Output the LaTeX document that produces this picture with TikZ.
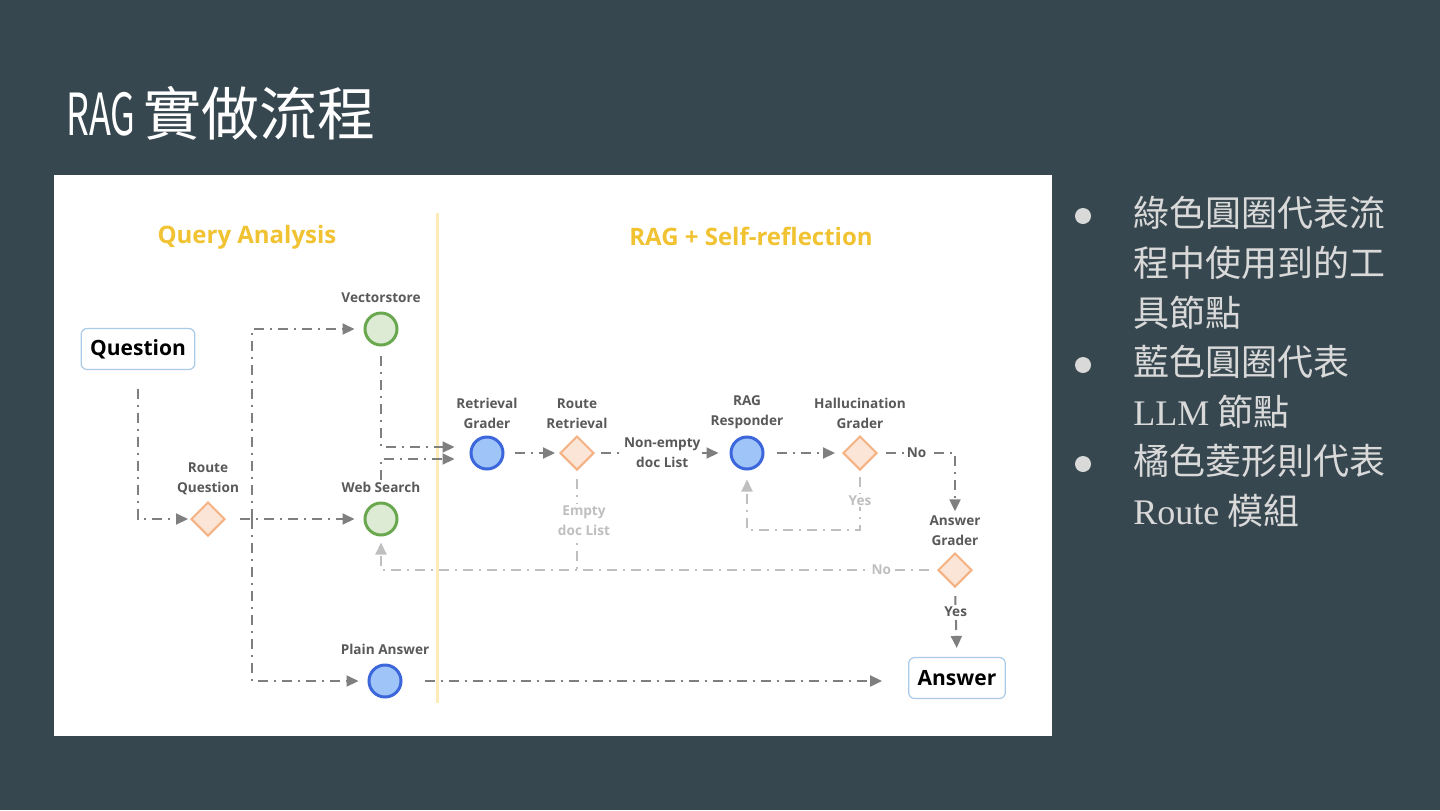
\documentclass[tikz,border=0pt]{standalone}
\usepackage{fontspec}
\setmainfont{Open Sans}
\newfontfamily\cjk{Noto Sans CJK TC}
\newfontfamily\condfont[FakeStretch=0.62]{Noto Sans CJK TC}
\newfontfamily\serifb{Liberation Serif}
\usetikzlibrary{shapes, arrows.meta, positioning}

\definecolor{slide}{HTML}{37474F}
\definecolor{headgold}{HTML}{F1C232}
\definecolor{toolgreen}{HTML}{6AA84F}
\definecolor{toolfill}{HTML}{DDEBD5}
\definecolor{llmblue}{HTML}{3C66DB}
\definecolor{llmfill}{HTML}{9FC5F8}
\definecolor{routeorange}{HTML}{F4B183}
\definecolor{routefill}{HTML}{FBE5D6}
\definecolor{boxblue}{HTML}{A9CBE8}
\definecolor{flowgray}{HTML}{7F7F7F}
\definecolor{faintgray}{HTML}{BFBFBF}
\definecolor{lblgray}{HTML}{595959}
\definecolor{sepyellow}{HTML}{FDEBB8}
\definecolor{bullettxt}{HTML}{D9D9D9}

\begin{document}
\begin{tikzpicture}[x=0.5pt, y=-0.5pt, node distance=3pt]
    \tikzstyle{tool} = [circle, draw=toolgreen, fill=toolfill, line width=1.5pt, minimum size=16pt, inner sep=0pt]
    \tikzstyle{llm} = [circle, draw=llmblue, fill=llmfill, line width=1.5pt, minimum size=16pt, inner sep=0pt]
    \tikzstyle{route} = [diamond, draw=routeorange, fill=routefill, line width=1pt, minimum size=17pt, inner sep=0pt]
    \tikzstyle{endbox} = [rectangle, rounded corners=3pt, draw=boxblue, fill=white, line width=0.6pt, inner xsep=4.5pt, minimum height=20.5pt, font=\fontsize{10.5}{12}\selectfont\bfseries]
    \tikzstyle{header} = [font=\fontsize{12}{14}\selectfont\bfseries, text=headgold]
    \tikzstyle{lbl} = [font=\fontsize{6.8}{10}\selectfont\bfseries, text=lblgray, align=center, inner sep=1pt]
    \tikzstyle{faintlbl} = [lbl, text=faintgray]
    \tikzstyle{arrow} = [line width=1pt, draw=flowgray, dash pattern=on 5pt off 3pt on 1pt off 3pt, -{Triangle[length=6pt, width=5.5pt]}]
    \tikzstyle{faintarrow} = [arrow, draw=faintgray]
    \tikzstyle{faintline} = [line width=1pt, draw=faintgray, dash pattern=on 5pt off 3pt on 1pt off 3pt]
    \tikzstyle{bulletdot} = [circle, fill=bullettxt, minimum size=8pt, inner sep=0pt]
    \tikzstyle{bullettext} = [anchor=north west, align=left, inner sep=0pt, text=bullettxt, font=\cjk\fontsize{18}{25}\selectfont]

    % Slide
    \fill[slide] (0,0) rectangle (1440,810);
    \node (title) [anchor=base west, inner sep=0pt, text=white, font=\fontsize{29}{32}\selectfont] at (66,135) {\condfont RAG \cjk 實做流程};
    \fill[white] (54,175) rectangle (1052,736);
    \draw[sepyellow, line width=1.5pt] (437,213) -- (437,703);

    \node (qaTitle) [header] at (247,237) {Query Analysis};
    \node (ragTitle) [header] at (751,236) {RAG + Self-reflection};

    % Nodes
    \node (question) [endbox] at (138,349) {Question};
    \node (routeq) [route] at (208,519) {};
    \node (vec) [tool] at (381,329) {};
    \node (web) [tool] at (381,519) {};
    \node (plain) [llm] at (385,681) {};
    \node (grader) [llm] at (487,453) {};
    \node (routeret) [route] at (577,453) {};
    \node (responder) [llm] at (747,453) {};
    \node (halluc) [route] at (860,453) {};
    \node (ansgrader) [route] at (955,570) {};
    \node (answer) [endbox] at (957,678) {Answer};

    % Labels
    \node (routeqLbl) [lbl, above=2pt of routeq] {Route\\Question};
    \node (vecLbl) [lbl, above=of vec] {Vectorstore};
    \node (webLbl) [lbl, above=of web] {Web Search};
    \node (plainLbl) [lbl, above=of plain] {Plain Answer};
    \node (graderLbl) [lbl, above=2pt of grader] {Retrieval\\Grader};
    \node (routeretLbl) [lbl, above=2pt of routeret] {Route\\Retrieval};
    \node (responderLbl) [lbl, above=2pt of responder] {RAG\\Responder};
    \node (hallucLbl) [lbl, above=2pt of halluc] {Hallucination\\Grader};
    \node (agLbl) [lbl, above=2pt of ansgrader] {Answer\\Grader};

    \coordinate (split) at (252,519);
    \coordinate (yesTurn) at (860,530);

    % Arrows
    \draw [arrow, shorten <=9.5pt, shorten >=1pt] (question.south) |- (routeq.west);
    \draw [arrow, shorten <=7pt, shorten >=4.5pt] (routeq.east) -- (web.west);
    \draw [arrow, shorten >=4.5pt] (split) |- (vec.west);
    \draw [arrow, shorten >=4.5pt] (split) |- (plain.west);
    \draw [arrow, shorten <=4.5pt, shorten >=7.5pt] (vec.south) |- ([yshift=3pt]grader.west);
    \draw [arrow, shorten >=7.5pt] (webLbl.north) |- ([yshift=-3pt]grader.west);
    \draw [arrow, shorten <=5pt, shorten >=2pt] (grader.east) -- (routeret.west);
    \draw [arrow, shorten <=3pt, shorten >=5.5pt] (routeret.east) -- node[lbl, fill=white] (nonempty) {Non-empty\\doc List} (responder.west);
    \draw [faintline, shorten <=4pt] (routeret.south) -- node[faintlbl, fill=white, xshift=3.5pt] (emptyLbl) {Empty\\doc List} (routeret |- ansgrader);
    \draw [arrow, shorten <=6pt, shorten >=3.5pt] (responder.east) -- (halluc.west);
    \draw [arrow, shorten <=4pt, shorten >=1pt] (halluc.east) -- node[lbl, fill=white] (noHal) {No} (ansgrader |- halluc) -- (agLbl.north);
    \draw [faintarrow, shorten <=3pt, shorten >=4.5pt] (halluc.south) -- node[faintlbl, fill=white] (yesHal) {Yes} (yesTurn) -- (responder |- yesTurn) -- (responder.south);
    \draw [faintarrow, shorten <=4pt, shorten >=3pt] (ansgrader.west) -- node[faintlbl, fill=white, pos=0.1] (noAns) {No} (web |- ansgrader) -- (web.south);
    \draw [arrow, shorten <=4pt, shorten >=4.5pt] (ansgrader.south) -- node[lbl, fill=white, pos=0.35] (yesAns) {Yes} (answer.north);
    \draw [arrow, shorten <=11pt, shorten >=13pt] (plain.east) -- (plain -| answer.west);

    % Notes
    \node (dot1) [bulletdot] at (1083,216) {};
    \node (item1) [bullettext] at (1133,196) {綠色圓圈代表流\\程中使用到的工\\具節點};
    \node (dot2) [bulletdot] at (1083,365) {};
    \node (item2) [bullettext] at (1133,345) {藍色圓圈代表\\{\serifb LLM} 節點};
    \node (dot3) [bulletdot] at (1083,464) {};
    \node (item3) [bullettext] at (1133,444) {橘色菱形則代表\\{\serifb Route} 模組};
\end{tikzpicture}
\end{document}
